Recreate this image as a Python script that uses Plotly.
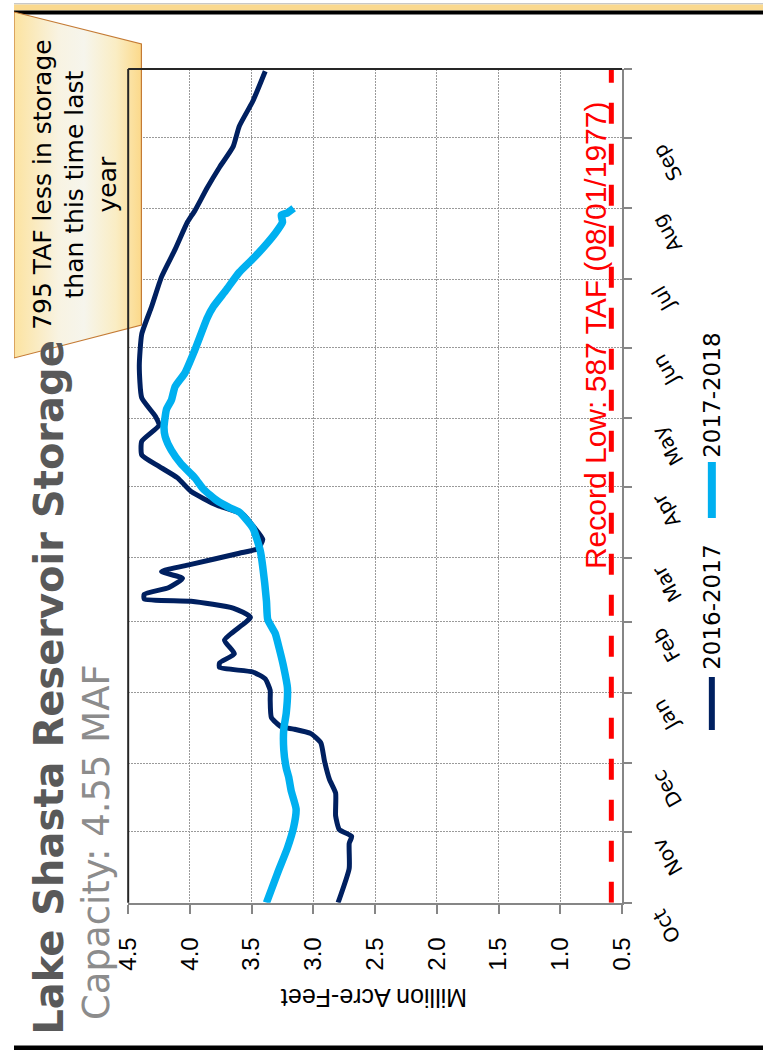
import plotly.graph_objects as go
import pandas as pd

W, H = 776, 1050

# ---------------- data ----------------
dates_2016_17 = [
    "2016-10-01", "2016-10-16", "2016-10-27", "2016-10-30", "2016-11-02", "2016-11-08",
    "2016-11-18", "2016-11-24", "2016-12-02", "2016-12-10", "2016-12-14", "2016-12-16",
    "2016-12-17", "2016-12-21", "2016-12-29", "2017-01-02", "2017-01-07", "2017-01-10",
    "2017-01-12", "2017-01-14", "2017-01-18", "2017-01-24", "2017-02-03", "2017-02-07",
    "2017-02-10", "2017-02-11", "2017-02-13", "2017-02-16", "2017-02-20", "2017-02-23",
    "2017-02-26", "2017-03-03", "2017-03-05", "2017-03-09", "2017-03-15", "2017-03-20",
    "2017-03-24", "2017-03-30", "2017-04-05", "2017-04-10", "2017-04-15", "2017-04-21",
    "2017-04-28", "2017-05-02", "2017-05-10", "2017-05-24", "2017-06-07", "2017-06-19",
    "2017-07-02", "2017-07-14", "2017-07-26", "2017-07-31", "2017-08-10", "2017-08-19",
    "2017-08-28", "2017-09-06", "2017-09-17", "2017-09-30",
]
storage_2016_17 = [
    2.80, 2.71, 2.71, 2.69, 2.79, 2.82,
    2.82, 2.87, 2.91, 2.94, 3.02, 3.16,
    3.26, 3.34, 3.35, 3.35, 3.39, 3.49,
    3.76, 3.76, 3.64, 3.72, 3.51, 3.65,
    3.99, 4.37, 4.37, 4.17, 4.06, 4.23,
    4.00, 3.60, 3.45, 3.41, 3.49, 3.57,
    3.78, 3.99, 4.10, 4.25, 4.39, 4.39,
    4.25, 4.28, 4.39, 4.41, 4.39, 4.31,
    4.23, 4.12, 4.02, 3.96, 3.86, 3.76,
    3.65, 3.60, 3.49, 3.39,
]

dates_2017_18 = [
    "2017-10-01", "2017-10-14", "2017-10-25", "2017-11-03", "2017-11-11", "2017-11-19",
    "2017-11-25", "2017-11-29", "2017-12-07", "2017-12-16", "2017-12-23", "2018-01-03",
    "2018-01-12", "2018-01-21", "2018-01-27", "2018-02-02", "2018-02-10", "2018-02-25",
    "2018-03-04", "2018-03-14", "2018-03-21", "2018-03-23", "2018-03-26", "2018-03-31",
    "2018-04-05", "2018-04-11", "2018-04-17", "2018-04-23", "2018-04-27", "2018-05-05",
    "2018-05-09", "2018-05-15", "2018-05-21", "2018-05-31", "2018-06-14", "2018-06-19",
    "2018-06-26", "2018-07-04", "2018-07-11", "2018-07-21", "2018-07-26", "2018-07-29",
    "2018-07-30", "2018-08-01",
]
storage_2017_18 = [
    3.38, 3.29, 3.21, 3.16, 3.14, 3.18,
    3.20, 3.22, 3.24, 3.24, 3.22, 3.21,
    3.24, 3.28, 3.31, 3.37, 3.38, 3.41,
    3.43, 3.49, 3.60, 3.68, 3.78, 3.89,
    3.96, 4.07, 4.15, 4.20, 4.21, 4.19,
    4.15, 4.12, 4.04, 3.96, 3.86, 3.81,
    3.71, 3.60, 3.47, 3.31, 3.25, 3.26,
    3.21, 3.16,
]

series_names = ["2016-2017", "2017-2018"]
series_colors = ["#002060", "#00B0F0"]

record_low_maf = 0.587
record_low_text = "Record Low: 587 TAF (08/01/1977)"
record_low_span = ["2016-10-01", "2017-10-01"]

month_ticks = ["2016-10-01", "2016-11-01", "2016-12-01", "2017-01-01", "2017-02-01",
               "2017-03-01", "2017-04-01", "2017-05-01", "2017-06-01", "2017-07-01",
               "2017-08-01", "2017-09-01", "2017-10-01"]
month_labels = ["Oct", "Nov", "Dec", "Jan", "Feb", "Mar", "Apr", "May", "Jun",
                "Jul", "Aug", "Sep"]
value_ticks = [4.5, 4.0, 3.5, 3.0, 2.5, 2.0, 1.5, 1.0, 0.5]
value_range = [4.5, 0.5]

title_text = "Lake Shasta Reservoir Storage"
subtitle_text = "Capacity: 4.55 MAF"
axis_title = "Million Acre-Feet"
callout_text = "795 TAF less in storage<br>than this time last<br>year"

# ---------------- layout helpers (pixel -> paper) ----------------
PL, PR, PT, PB = 118.3, 630.0, 69.0, 902.7


def fx(px):
    return px / W


def fy(py):
    return 1 - py / H


# plot 2017-18 on the same water-year axis as 2016-17
dates_2017_18_on_axis = (pd.to_datetime(dates_2017_18) - pd.DateOffset(years=1))

fig = go.Figure()

# callout box (decoration, drawn on a full-figure pixel overlay axis)
callout_px_x = [0, 132, 132, 0, 0]
callout_px_y = [12, 44, 325, 358, 12]

fig.add_trace(go.Scatter(
    x=storage_2016_17, y=pd.to_datetime(dates_2016_17), mode="lines",
    name=series_names[0],
    line=dict(color=series_colors[0], width=5, shape="spline", smoothing=0.5),
    hoverinfo="skip"))
fig.add_trace(go.Scatter(
    x=storage_2017_18, y=dates_2017_18_on_axis, mode="lines",
    name=series_names[1],
    line=dict(color=series_colors[1], width=7.5, shape="spline", smoothing=0.5),
    hoverinfo="skip"))
fig.add_trace(go.Scatter(
    x=[record_low_maf, record_low_maf], y=record_low_span, mode="lines",
    line=dict(color="#FF0000", width=5, dash="21px,20px"), hoverinfo="skip"))

fig.add_trace(go.Scatter(
    x=callout_px_x, y=callout_px_y, xaxis="x2", yaxis="y2", mode="lines",
    fill="toself",
    fillgradient=dict(type="horizontal",
                      colorscale=[[0, "#FCE3A0"], [0.35, "#F8F3E2"], [0.55, "#F6F5EC"],
                                  [0.8, "#FAEDC4"], [1, "#FCD98A"]]),
    line=dict(color="#C47A34", width=1.2), hoverinfo="skip"))

grid = "#9A9A9A"
axgray = "#868686"
griddash = "1.5px,1.5px"

fig.update_layout(
    width=W, height=H, autosize=False,
    margin=dict(l=0, r=0, t=0, b=0, pad=0),
    paper_bgcolor="white", plot_bgcolor="rgba(0,0,0,0)",
    showlegend=False,
    xaxis=dict(
        domain=[fx(PL), fx(PR)], range=value_range, tickvals=value_ticks,
        tickformat=".1f", tickangle=-90,
        tickfont=dict(family="Liberation Sans, Arial", size=24, color="black"),
        showgrid=True, gridcolor=grid, griddash=griddash, gridwidth=1.2,
        showline=True, linecolor=axgray, linewidth=2,
        ticks="outside", ticklen=9, tickwidth=2, tickcolor=axgray,
        ticklabelstandoff=14,
        zeroline=False, anchor="y", fixedrange=True),
    yaxis=dict(
        domain=[fy(PB), fy(PT)], type="date",
        range=[month_ticks[0], month_ticks[-1]], tickvals=month_ticks,
        showticklabels=False, side="right",
        showgrid=True, gridcolor=grid, griddash=griddash, gridwidth=1.2,
        showline=True, linecolor=axgray, linewidth=2,
        ticks="outside", ticklen=8, tickwidth=2, tickcolor=axgray,
        zeroline=False, anchor="x", fixedrange=True),
    xaxis2=dict(domain=[0, 1], range=[0, W], visible=False, anchor="y2",
                fixedrange=True),
    yaxis2=dict(domain=[0, 1], range=[H, 0], visible=False, anchor="x2",
                fixedrange=True),
)

shapes = []
# plot frame: left and top edges
shapes.append(dict(type="line", xref="paper", yref="paper", x0=fx(PL), x1=fx(PL),
                   y0=fy(PT), y1=fy(PB), line=dict(color="#262626", width=2)))
shapes.append(dict(type="line", xref="paper", yref="paper", x0=fx(PL), x1=fx(PR),
                   y0=fy(PT), y1=fy(PT), line=dict(color="#262626", width=2)))
# top double border
shapes.append(dict(type="rect", xref="paper", yref="paper", x0=0, x1=1,
                   y0=fy(4.5), y1=fy(3.0), fillcolor="#C8C8C8", line=dict(width=0),
                   layer="below"))
shapes.append(dict(type="rect", xref="paper", yref="paper", x0=0, x1=1,
                   y0=fy(10.5), y1=fy(4.5), fillcolor="#FAD98F", line=dict(width=0),
                   layer="below"))
shapes.append(dict(type="rect", xref="paper", yref="paper", x0=0, x1=1,
                   y0=fy(14.5), y1=fy(10.5), fillcolor="#000000", line=dict(width=0),
                   layer="below"))
# bottom border
shapes.append(dict(type="rect", xref="paper", yref="paper", x0=0, x1=1,
                   y0=0, y1=fy(1045.5), fillcolor="#000000", line=dict(width=0)))
# legend samples
shapes.append(dict(type="line", xref="paper", yref="paper", x0=fx(723), x1=fx(723),
                   y0=fy(730), y1=fy(677), line=dict(color=series_colors[0], width=6)))
shapes.append(dict(type="line", xref="paper", yref="paper", x0=fx(723), x1=fx(723),
                   y0=fy(518), y1=fy(462), line=dict(color=series_colors[1], width=8)))
fig.update_layout(shapes=shapes)

ann = []
# title and subtitle
ann.append(dict(text="<b>" + title_text + "</b>", xref="paper", yref="paper",
                x=fx(36), y=fy(687), xanchor="center", yanchor="middle",
                textangle=-90, showarrow=False,
                font=dict(family="DejaVu Sans", size=40, color="#595959")))
ann.append(dict(text=subtitle_text, xref="paper", yref="paper",
                x=fx(85), y=fy(842), xanchor="center", yanchor="middle",
                textangle=-90, showarrow=False,
                font=dict(family="DejaVu Sans", size=37, color="#8C8C8C")))
# callout text
ann.append(dict(text=callout_text, xref="paper", yref="paper",
                x=fx(63), y=fy(185), xanchor="center", yanchor="middle",
                textangle=-90, showarrow=False, align="center",
                font=dict(family="DejaVu Sans", size=25, color="black")))
# axis title (upside down)
ann.append(dict(text=axis_title, xref="paper", yref="paper",
                x=fx(373), y=fy(998), xanchor="center", yanchor="middle",
                textangle=180, showarrow=False,
                font=dict(family="Liberation Sans, Arial", size=25, color="black")))
# month labels
for d, lab in zip(month_ticks[:-1], month_labels):
    ann.append(dict(text=lab, xref="paper", yref="y", x=fx(653), y=d,
                    xanchor="left", yanchor="top", textangle=-120, showarrow=False,
                    font=dict(family="DejaVu Sans", size=20, color="black")))
# record low label
ann.append(dict(text=record_low_text, xref="paper", yref="paper",
                x=fx(602), y=fy(335), xanchor="center", yanchor="middle",
                textangle=-90, showarrow=False,
                font=dict(family="Liberation Sans, Arial", size=30, color="#FF0000")))
# legend texts
ann.append(dict(text=series_names[0], xref="paper", yref="paper",
                x=fx(723), y=fy(607), xanchor="center", yanchor="middle",
                textangle=-90, showarrow=False,
                font=dict(family="DejaVu Sans", size=23, color="black")))
ann.append(dict(text=series_names[1], xref="paper", yref="paper",
                x=fx(723), y=fy(395), xanchor="center", yanchor="middle",
                textangle=-90, showarrow=False,
                font=dict(family="DejaVu Sans", size=23, color="black")))
fig.update_layout(annotations=ann)

fig.write_html(
    "out.html",
    config={"displayModeBar": False},
    post_script="document.body.style.margin='0px';"
                "document.documentElement.style.overflow='hidden';",
)
